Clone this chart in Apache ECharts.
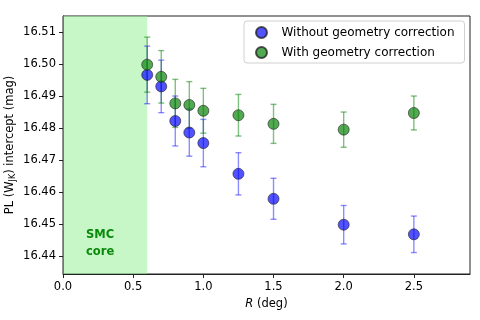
<!DOCTYPE html>
<html>
<head>
<meta charset="utf-8">
<script src="https://cdn.jsdelivr.net/npm/echarts@6/dist/echarts.min.js"></script>
<style>
  html, body { margin: 0; padding: 0; background: #fff; }
  #chart { width: 480px; height: 320px; }
</style>
</head>
<body>
<div id="chart"></div>
<script>
const radius = [0.6, 0.7, 0.8, 0.9, 1.0, 1.25, 1.5, 2.0, 2.5];

const withoutVals = [16.4966, 16.4930, 16.4822, 16.4786, 16.4753, 16.4657, 16.4579, 16.4498, 16.4468];
const withoutErrs = [0.0090, 0.0082, 0.0078, 0.0074, 0.0074, 0.0066, 0.0064, 0.0060, 0.0057];

const withVals = [16.4998, 16.4960, 16.4877, 16.4872, 16.4854, 16.4840, 16.4813, 16.4795, 16.4847];
const withErrs = [0.0086, 0.0082, 0.0075, 0.0073, 0.0070, 0.0065, 0.0061, 0.0055, 0.0053];

const xTicks = [0, 0.5, 1.0, 1.5, 2.0, 2.5];
const yTicks = [16.44, 16.45, 16.46, 16.47, 16.48, 16.49, 16.50, 16.51];

const FONT = "DejaVu Sans";
const BLUE_FILL = "rgba(0, 0, 255, 0.68)";
const BLUE_BAR = "rgba(0, 0, 255, 0.45)";
const GREEN_FILL = "rgba(0, 128, 0, 0.68)";
const GREEN_BAR = "rgba(0, 128, 0, 0.5)";

function errorSeries(name, vals, errs, color) {
  return {
    type: "custom",
    name,
    silent: true,
    data: radius.map((r, i) => [r, vals[i] - errs[i], vals[i] + errs[i]]),
    encode: { x: 0, y: [1, 2] },
    renderItem(params, api) {
      const lo = api.coord([api.value(0), api.value(1)]);
      const hi = api.coord([api.value(0), api.value(2)]);
      const cap = 3;
      const style = { stroke: color, lineWidth: 1.4 };
      return {
        type: "group",
        children: [
          { type: "line", shape: { x1: lo[0], y1: lo[1], x2: hi[0], y2: hi[1] }, style },
          { type: "line", shape: { x1: lo[0] - cap, y1: lo[1], x2: lo[0] + cap, y2: lo[1] }, style },
          { type: "line", shape: { x1: hi[0] - cap, y1: hi[1], x2: hi[0] + cap, y2: hi[1] }, style }
        ]
      };
    }
  };
}

function markerSeries(name, vals, fill) {
  return {
    type: "scatter",
    name,
    data: radius.map((r, i) => [r, vals[i]]),
    symbol: "circle",
    symbolSize: 11,
    itemStyle: {
      color: fill,
      borderColor: "rgba(30, 30, 30, 0.75)",
      borderWidth: 0.8,
      opacity: 1
    }
  };
}

const chart = echarts.init(document.getElementById("chart"));

const coreSeries = markerSeries("Without geometry correction", withoutVals, BLUE_FILL);
coreSeries.markArea = {
  silent: true,
  itemStyle: { color: "rgba(144, 238, 144, 0.5)" },
  label: {
    show: true,
    position: "insideBottom",
    distance: 13,
    offset: [-5, 0],
    formatter: "SMC\ncore",
    color: "#0a8a0a",
    fontFamily: FONT,
    fontWeight: "bold",
    fontSize: 11.5,
    lineHeight: 17,
    align: "center"
  },
  data: [[{ xAxis: 0 }, { xAxis: 0.6 }]]
};

chart.setOption({
  animation: false,
  textStyle: { fontFamily: FONT },
  grid: {
    left: 63, right: 10, top: 16, bottom: 46,
    outerBoundsMode: "none",
    containLabel: false,
    show: true,
    borderColor: "#222",
    borderWidth: 1,
    backgroundColor: "transparent"
  },
  legend: {
    data: ["Without geometry correction", "With geometry correction"],
    orient: "vertical",
    left: 244,
    top: 21,
    padding: [5, 10, 4, 11],
    itemWidth: 30,
    itemHeight: 11,
    itemGap: 7,
    icon: "circle",
    backgroundColor: "rgba(255,255,255,0.85)",
    borderColor: "#d0d0d0",
    borderWidth: 1,
    borderRadius: 3,
    textStyle: { fontFamily: FONT, fontSize: 12, color: "#000" }
  },
  xAxis: {
    type: "value",
    min: 0,
    max: 2.9,
    name: "{it|R} (deg)",
    nameLocation: "middle",
    nameGap: 23,
    nameTextStyle: {
      fontFamily: FONT, fontSize: 11.5, color: "#000",
      rich: { it: { fontFamily: FONT, fontSize: 11.5, fontStyle: "italic", color: "#000" } }
    },
    axisLine: { show: true, onZero: false, lineStyle: { color: "#222", width: 1 } },
    axisTick: { show: true, inside: false, length: 4, lineStyle: { color: "#222" }, customValues: xTicks },
    axisLabel: {
      color: "#000", fontSize: 11.5, fontFamily: FONT, margin: 7,
      customValues: xTicks,
      formatter: v => v.toFixed(1)
    },
    splitLine: { show: false }
  },
  yAxis: {
    type: "value",
    min: 16.4344,
    max: 16.515,
    name: "PL (W{sub|JK}) intercept (mag)",
    nameLocation: "middle",
    nameRotate: 90,
    nameGap: 46,
    nameMoveOverlap: false,
    nameTextStyle: {
      fontFamily: FONT, fontSize: 11.5, color: "#000",
      rich: { sub: { fontFamily: FONT, fontSize: 8, color: "#000", verticalAlign: "bottom", padding: [5, 0, 0, 0] } }
    },
    axisLine: { show: true, onZero: false, lineStyle: { color: "#222", width: 1 } },
    axisTick: { show: true, inside: false, length: 4, lineStyle: { color: "#222" }, customValues: yTicks },
    axisLabel: {
      color: "#000", fontSize: 11.5, fontFamily: FONT, margin: 7,
      customValues: yTicks,
      formatter: v => v.toFixed(2)
    },
    splitLine: { show: false }
  },
  series: [
    errorSeries("withoutErr", withoutVals, withoutErrs, BLUE_BAR),
    coreSeries,
    errorSeries("withErr", withVals, withErrs, GREEN_BAR),
    markerSeries("With geometry correction", withVals, GREEN_FILL)
  ]
});
</script>
</body>
</html>
